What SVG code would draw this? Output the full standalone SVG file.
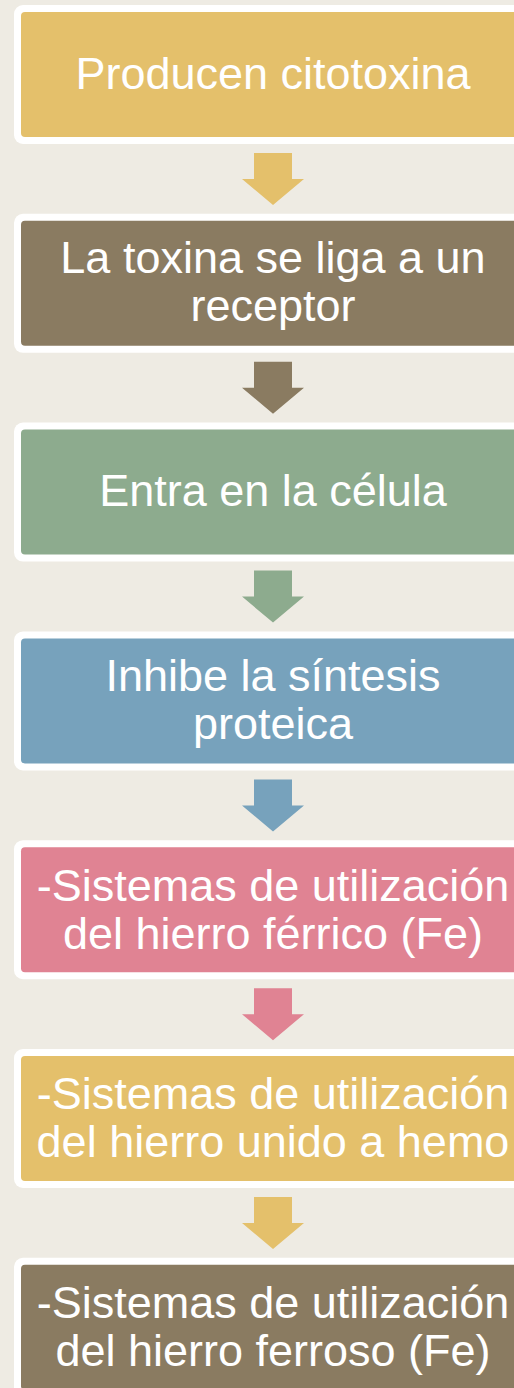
<svg xmlns="http://www.w3.org/2000/svg" width="514" height="1388" viewBox="0 0 514 1388">
<style>
.frame{fill:#FFFFFF}
.t{font-family:"Liberation Sans",Arial,sans-serif;font-size:45px;fill:#FFFFFF;text-anchor:middle}
.gold{fill:#E4C06B}.brown{fill:#8A7B61}.green{fill:#8DAB8E}.blue{fill:#77A2BC}.pink{fill:#E08393}
</style>
<defs>
<path id="arr" d="M254,0 H292 V26 H304 L273,52 L242,26 H254 Z"/>
</defs>
<rect width="514" height="1388" fill="#EEEBE3"/>
<g id="connectors">
<use href="#arr" class="gold" y="153"/>
<use href="#arr" class="brown" y="361.8"/>
<use href="#arr" class="green" y="570.6"/>
<use href="#arr" class="blue" y="779.4"/>
<use href="#arr" class="pink" y="988.2"/>
<use href="#arr" class="gold" y="1197"/>
</g>
<g id="n1">
<rect class="frame" x="14" y="5" width="530" height="139" rx="9"/>
<rect class="gold" x="21" y="12" width="520" height="125" rx="4"/>
<text class="t" x="273" y="89">Producen citotoxina</text>
</g>
<g id="n2">
<rect class="frame" x="14" y="213.8" width="530" height="139" rx="9"/>
<rect class="brown" x="21" y="220.8" width="520" height="125" rx="4"/>
<text class="t" x="273" y="273">La toxina se liga a un</text>
<text class="t" x="273" y="321">receptor</text>
</g>
<g id="n3">
<rect class="frame" x="14" y="422.6" width="530" height="139" rx="9"/>
<rect class="green" x="21" y="429.6" width="520" height="125" rx="4"/>
<text class="t" x="273" y="505.5">Entra en la célula</text>
</g>
<g id="n4">
<rect class="frame" x="14" y="631.4" width="530" height="139" rx="9"/>
<rect class="blue" x="21" y="638.4" width="520" height="125" rx="4"/>
<text class="t" x="273" y="691">Inhibe la síntesis</text>
<text class="t" x="273" y="739">proteica</text>
</g>
<g id="n5">
<rect class="frame" x="14" y="840.2" width="530" height="139" rx="9"/>
<rect class="pink" x="21" y="847.2" width="520" height="125" rx="4"/>
<text class="t" x="273" y="900.5">-Sistemas de utilización</text>
<text class="t" x="273" y="948.5">del hierro férrico (Fe)</text>
</g>
<g id="n6">
<rect class="frame" x="14" y="1049" width="530" height="139" rx="9"/>
<rect class="gold" x="21" y="1056" width="520" height="125" rx="4"/>
<text class="t" x="273" y="1108.5">-Sistemas de utilización</text>
<text class="t" x="273" y="1157">del hierro unido a hemo</text>
</g>
<g id="n7">
<rect class="frame" x="14" y="1257.8" width="530" height="139" rx="9"/>
<rect class="brown" x="21" y="1264.8" width="520" height="125" rx="4"/>
<text class="t" x="273" y="1317.5">-Sistemas de utilización</text>
<text class="t" x="273" y="1366">del hierro ferroso (Fe)</text>
</g>
</svg>
